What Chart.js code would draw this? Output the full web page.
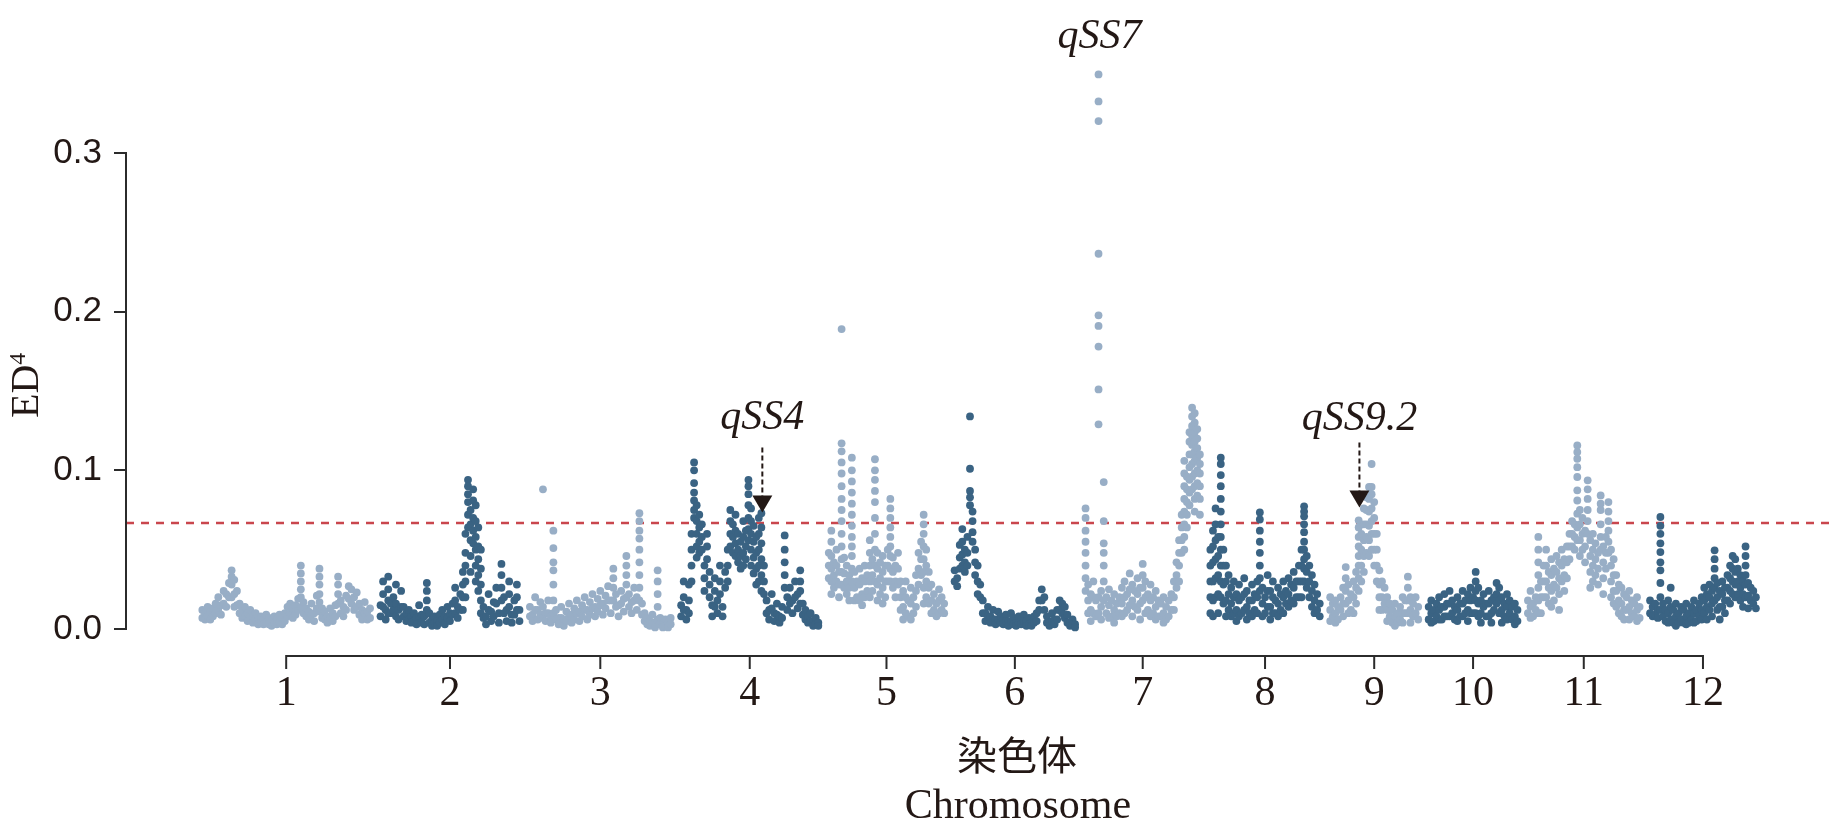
<!DOCTYPE html>
<html lang="zh">
<head>
<meta charset="utf-8">
<title>ED4 染色体</title>
<script src="https://cdn.jsdelivr.net/npm/chart.js@4.4.1/dist/chart.umd.min.js"></script>
<style>
  html, body { margin: 0; padding: 0; background: #fff; }
  #wrap { width: 1844px; height: 832px; position: relative; }
</style>
</head>
<body>
<div id="wrap"><canvas id="edChart"></canvas></div>
<script>
/* ED4 全基因组关联图 - 12条染色体 */

// 染色体名称和长度 (Mb)
const chrNames = ['1', '2', '3', '4', '5', '6', '7', '8', '9', '10', '11', '12'];
const chrLen = [43.27, 35.94, 36.41, 35.50, 29.96, 31.25, 29.70, 28.44, 23.01, 23.21, 29.02, 27.53];
const CHR_GAP = 2;

// 各染色体的ED4值, 从左到右; 数组表示同一位置的多个标记
const chr1 = [
  [0.012,0.007],[0.010,0.006],[0.014,0.008],[0.011,0.006],[0.013,0.008],
  [0.016,0.010],[0.020,0.012],[0.015,0.009],[0.024,0.016],
  [0.022,0.014],[0.029,0.020],[0.037,0.033,0.028,0.020],[0.031,0.022,0.014],[0.024,0.015],[0.016,0.010],
  [0.012,0.007],[0.014,0.008],[0.010,0.005],[0.012,0.007],[0.008,0.004],[0.010,0.006],[0.007,0.003],
  [0.008,0.004],[0.006,0.003],[0.009,0.004],[0.007,0.003],[0.005,0.002],[0.008,0.004],[0.006,0.003],[0.009,0.004],[0.007,0.003],[0.010,0.005],[0.014,0.008],
  [0.016,0.010],[0.013,0.007],[0.015,0.009],[0.019,0.012],[0.040,0.035,0.030,0.025,0.020,0.014],[0.017,0.010],[0.013,0.008],[0.011,0.006],[0.016,0.009],[0.010,0.005],[0.021,0.013],
  [0.038,0.033,0.028,0.022,0.017,0.011],[0.013,0.007],[0.011,0.006],[0.008,0.004],[0.013,0.007],[0.010,0.005],[0.015,0.008],[0.033,0.028,0.022,0.016],[0.018,0.010],
  [0.014,0.008],[0.021,0.012],[0.027,0.019],[0.025,0.016],[0.020,0.012],[0.023,0.014],[0.016,0.009],[0.012,0.006],[0.017,0.010],[0.011,0.006],[0.013,0.007]
];
const chr2 = [
  [0.015,0.008],[0.030,0.022,0.014],[0.012,0.006],[0.033,0.025,0.018,0.010],[0.016,0.010],[0.020,0.012],[0.028,0.016,0.008],[0.012,0.006],[0.024,0.014],[0.014,0.008],
  [0.010,0.005],[0.012,0.006],[0.008,0.004],[0.010,0.005],[0.007,0.003],[0.015,0.008],[0.009,0.004],[0.008,0.003],
  [0.029,0.024,0.018,0.012],[0.010,0.004],
  [0.006,0.002],[0.008,0.004],[0.005,0.002],[0.009,0.004],[0.012,0.006],[0.008,0.003],[0.014,0.007],[0.010,0.005],
  [0.016,0.009],[0.026,0.018,0.010],[0.014,0.007],[0.022,0.012],[0.036,0.028,0.020,0.012],
  [0.060,0.048,0.040,0.030,0.020],[0.094,0.090,0.085,0.080,0.072,0.064],[0.075,0.066,0.056,0.046,0.036],[0.088,0.081,0.070,0.062,0.054],[0.078,0.068,0.058,0.050,0.040,0.030],[0.064,0.052,0.044,0.034,0.024],[0.050,0.038,0.028,0.018,0.010],
  [0.014,0.007],[0.008,0.003],[0.022,0.012],[0.011,0.005],[0.017,0.008],[0.026,0.016],[0.010,0.004],
  [0.041,0.034,0.026,0.018],[0.020,0.010],[0.012,0.005],[0.030,0.022,0.014],[0.009,0.004],[0.018,0.009],[0.028,0.020,0.012],[0.012,0.005]
];
const chr3 = [
  [0.014,0.008],[0.009,0.005],[0.020,0.012],[0.012,0.006],[0.017,0.009],
  [0.088,0.014,0.007],
  [0.010,0.005],[0.018,0.010],[0.008,0.004],
  [0.062,0.051,0.042,0.037,0.028,0.018,0.010],
  [0.012,0.006],[0.007,0.003],[0.014,0.007],[0.006,0.002],[0.011,0.005],[0.016,0.008],[0.009,0.004],[0.013,0.006],[0.018,0.010],[0.011,0.005],[0.015,0.008],[0.020,0.012],[0.012,0.006],[0.017,0.009],[0.022,0.013],[0.014,0.008],[0.019,0.011],
  [0.024,0.015],[0.016,0.009],[0.021,0.013],[0.027,0.018],[0.018,0.010],
  [0.038,0.032,0.026,0.018],[0.022,0.014],
  [0.015,0.008],[0.024,0.016],[0.019,0.011],
  [0.046,0.040,0.034,0.028,0.020],
  [0.022,0.014],[0.017,0.010],[0.026,0.018],[0.020,0.012],
  [0.073,0.068,0.062,0.057,0.050,0.042,0.034,0.026,0.018],
  [0.016,0.009],[0.010,0.005],[0.007,0.003],
  [0.005,0.002],[0.009,0.004],[0.004,0.001],[0.037,0.030,0.022,0.014,0.006],[0.007,0.003],[0.003,0.001],[0.006,0.002],[0.004,0.001],[0.007,0.003]
];
const chr4 = [
  [0.015,0.008],[0.030,0.020,0.012],[0.012,0.006],[0.028,0.018,0.010],
  [0.060,0.050,0.040,0.030],
  [0.105,0.100,0.092,0.086,0.081,0.075,0.070],
  [0.078,0.068,0.060,0.052,0.045],
  [0.072,0.064,0.055,0.048],
  [0.066,0.058,0.050],
  [0.040,0.032,0.024],
  [0.060,0.052,0.044],
  [0.036,0.028,0.020],
  [0.015,0.008],
  [0.032,0.024,0.014],
  [0.018,0.010],
  [0.040,0.030,0.022],
  [0.014,0.008],
  [0.036,0.026],
  [0.050,0.040,0.030],
  [0.075,0.068,0.060,0.052],
  [0.066,0.058,0.048],
  [0.072,0.062,0.054,0.046],
  [0.060,0.050,0.042],
  [0.055,0.046,0.038],
  [0.068,0.058,0.048,0.040],
  [0.062,0.052,0.044],
  [0.094,0.090,0.085,0.078,0.070,0.063,0.056],
  [0.076,0.068,0.060,0.050,0.040],
  [0.065,0.055,0.045,0.035],
  [0.058,0.048,0.038,0.028],
  [0.070,0.060,0.050,0.040,0.030],
  [0.073,0.064,0.054,0.044,0.034,0.024],
  [0.040,0.030,0.022],
  [0.018,0.010],[0.012,0.006],[0.022,0.013],[0.010,0.005],[0.016,0.009],[0.008,0.004],[0.014,0.007],
  [0.059,0.050,0.042,0.034,0.026],
  [0.020,0.012],
  [0.026,0.016],[0.018,0.010],[0.030,0.020],[0.022,0.013],[0.037,0.030,0.024,0.016],[0.016,0.009],
  [0.012,0.006],[0.008,0.004],[0.010,0.005],[0.005,0.002],[0.007,0.003],[0.004,0.002]
];
const chr5 = [
  [0.048,0.040,0.032],
  [0.062,0.055,0.046,0.038,0.030,0.022],
  [0.042,0.034,0.026],
  [0.050,0.040,0.030],
  [0.036,0.028,0.020],
  [0.189,0.117,0.112,0.105,0.098,0.090,0.082,0.075,0.068,0.060,0.052,0.044,0.036,0.028],
  [0.045,0.035,0.026],
  [0.040,0.030,0.022],
  [0.034,0.026,0.018],
  [0.108,0.100,0.093,0.086,0.079,0.072,0.065,0.058,0.052,0.046,0.038,0.030],
  [0.036,0.026,0.018],
  [0.030,0.020],
  [0.038,0.028,0.018],
  [0.032,0.022,0.015],
  [0.040,0.030,0.020],
  [0.034,0.024],
  [0.056,0.048,0.040,0.030,0.020],
  [0.044,0.034,0.024],
  [0.107,0.100,0.094,0.087,0.080,0.070,0.060,0.050,0.040,0.030],
  [0.048,0.038,0.028,0.018],
  [0.042,0.032,0.022],
  [0.046,0.036,0.026,0.016],
  [0.040,0.030,0.020],
  [0.050,0.040,0.030],
  [0.082,0.076,0.070,0.064,0.058,0.052,0.046,0.038,0.030],
  [0.045,0.036,0.026],
  [0.040,0.030,0.020],
  [0.048,0.038,0.028],
  [0.030,0.020,0.012],
  [0.024,0.014,0.006],
  [0.030,0.020,0.010],
  [0.018,0.008],
  [0.026,0.016,0.006],
  [0.020,0.010],
  [0.034,0.024,0.014],
  [0.048,0.038,0.028],
  [0.055,0.044,0.034],
  [0.072,0.066,0.060,0.052,0.044,0.036,0.026,0.016],
  [0.050,0.040,0.030,0.020],
  [0.036,0.026,0.016],
  [0.028,0.018,0.010],
  [0.022,0.012],
  [0.016,0.008],
  [0.025,0.018,0.010],
  [0.020,0.012],
  [0.016,0.010]
];
const chr6 = [
  [0.037,0.030],[0.032,0.027],
  [0.053,0.045,0.038],[0.063,0.055,0.047,0.040],[0.050,0.042,0.036],[0.058,0.048,0.040],
  [0.134,0.101,0.087,0.083,0.078],
  [0.074,0.068,0.061,0.055],
  [0.050,0.042,0.034],[0.040,0.030,0.022],[0.028,0.020],
  [0.018,0.010],[0.010,0.005],[0.014,0.008],[0.008,0.004],[0.012,0.006],[0.006,0.003],[0.011,0.006],[0.008,0.004],
  [0.006,0.003],[0.009,0.005],[0.005,0.002],[0.010,0.005],[0.007,0.003],[0.004,0.002],[0.008,0.004],[0.006,0.003],[0.009,0.005],[0.005,0.002],[0.007,0.003],[0.004,0.002],[0.008,0.004],
  [0.010,0.005],
  [0.018,0.012],[0.025,0.018],[0.020,0.012],
  [0.008,0.004],[0.004,0.002],[0.010,0.005],[0.006,0.003],
  [0.012,0.006],[0.018,0.012],[0.016,0.010],[0.014,0.007],[0.009,0.004],
  [0.004,0.002],[0.006,0.003],[0.003,0.001]
];
const chr7 = [
  [0.076,0.070,0.062,0.055,0.048,0.040,0.032,0.024],
  [0.028,0.018,0.010],
  [0.022,0.012,0.005],
  [0.030,0.020,0.010],
  [0.018,0.008],
  [0.3495,0.3325,0.3201,0.2365,0.1977,0.191,0.178,0.151,0.129,0.020,0.010],
  [0.024,0.014,0.006],
  [0.0926,0.068,0.054,0.048,0.040,0.030,0.018],
  [0.020,0.010],
  [0.025,0.015,0.007],
  [0.018,0.008],
  [0.022,0.012,0.004],
  [0.016,0.008],
  [0.020,0.010],
  [0.026,0.016,0.008],
  [0.030,0.020,0.010],
  [0.022,0.012],
  [0.035,0.025,0.015],
  [0.028,0.018,0.008],
  [0.024,0.014],
  [0.032,0.022,0.012],
  [0.026,0.016,0.006],
  [0.041,0.034,0.026,0.018],
  [0.030,0.020,0.010],
  [0.022,0.012],
  [0.028,0.018,0.008],
  [0.020,0.010],
  [0.024,0.014,0.006],
  [0.018,0.008],
  [0.016,0.008],
  [0.020,0.010,0.004],
  [0.014,0.006],
  [0.018,0.008],
  [0.022,0.012],
  [0.030,0.020,0.012],
  [0.042,0.034,0.026],
  [0.056,0.048,0.040,0.030],
  [0.072,0.064,0.056,0.048],
  [0.106,0.098,0.090,0.082,0.074,0.066,0.058,0.050],
  [0.096,0.088,0.080,0.072,0.064],
  [0.124,0.118,0.110,0.102,0.094,0.086,0.078],
  [0.1395,0.134,0.128,0.122,0.116,0.110,0.104,0.096,0.088],
  [0.136,0.130,0.124,0.118,0.112,0.106,0.098,0.090,0.082,0.074],
  [0.126,0.120,0.114,0.108,0.100,0.092,0.084],
  [0.110,0.104,0.098,0.090,0.082,0.072]
];
const chr8 = [
  [0.050,0.040,0.030,0.020,0.010],
  [0.062,0.052,0.042,0.030,0.018,0.008],
  [0.076,0.066,0.056,0.044,0.032,0.020],
  [0.058,0.046,0.034,0.022,0.010],
  [0.108,0.104,0.097,0.090,0.082,0.074,0.066,0.058,0.050,0.040,0.030,0.020],
  [0.050,0.040,0.028,0.016],
  [0.040,0.030,0.018,0.008],
  [0.034,0.022,0.012],
  [0.026,0.016,0.008],
  [0.030,0.020,0.010],
  [0.022,0.012,0.005],
  [0.028,0.018,0.008],
  [0.020,0.010],
  [0.032,0.022,0.012],
  [0.024,0.014,0.006],
  [0.018,0.010],
  [0.028,0.018,0.008],
  [0.022,0.012],
  [0.030,0.020,0.010],
  [0.0735,0.069,0.062,0.055,0.048,0.040,0.032,0.024],
  [0.026,0.016,0.008],
  [0.020,0.010],
  [0.034,0.024,0.014],
  [0.024,0.014,0.006],
  [0.030,0.020,0.010],
  [0.018,0.010],
  [0.026,0.016,0.008],
  [0.022,0.012],
  [0.030,0.020,0.010],
  [0.024,0.016],
  [0.032,0.022,0.014],
  [0.028,0.018],
  [0.036,0.026,0.016],
  [0.030,0.020],
  [0.040,0.030,0.020],
  [0.050,0.040,0.030,0.020],
  [0.0773,0.074,0.071,0.066,0.061,0.055,0.050,0.044,0.038,0.030],
  [0.046,0.036,0.026],
  [0.040,0.030,0.020],
  [0.034,0.024,0.014],
  [0.028,0.018,0.010],
  [0.022,0.012],
  [0.016,0.008]
];
const chr9 = [
  [0.020,0.012,0.005],[0.016,0.008],[0.018,0.010,0.004],[0.014,0.006],[0.020,0.012],[0.026,0.016,0.008],
  [0.039,0.032,0.024,0.016],
  [0.028,0.018,0.010],[0.022,0.012],[0.030,0.020,0.010],[0.036,0.026,0.016],
  [0.0685,0.064,0.058,0.052,0.046,0.040,0.032,0.024],
  [0.060,0.050,0.040,0.030],
  [0.076,0.066,0.056,0.046,0.036],
  [0.083,0.075,0.066,0.058,0.048],
  [0.0895,0.082,0.074,0.065,0.056,0.046],
  [0.104,0.0895,0.085,0.076,0.068,0.060,0.050],
  [0.080,0.070,0.060,0.050,0.040],
  [0.060,0.050,0.040,0.030],
  [0.037,0.028,0.020,0.012],
  [0.030,0.020,0.012],
  [0.026,0.016],
  [0.020,0.012,0.005],
  [0.016,0.008],
  [0.012,0.004],
  [0.016,0.008,0.002],
  [0.010,0.004],
  [0.014,0.006],
  [0.020,0.010,0.004],
  [0.018,0.010],
  [0.033,0.026,0.018,0.010],
  [0.020,0.012,0.004],
  [0.016,0.008],
  [0.020,0.010],
  [0.014,0.006]
];
const chr10 = [
  [0.014,0.006],[0.018,0.010,0.004],[0.012,0.005],[0.016,0.008],[0.020,0.012,0.006],
  [0.014,0.006],[0.022,0.014,0.008],[0.016,0.008],[0.024,0.016,0.008],[0.018,0.010],
  [0.014,0.006],[0.020,0.012,0.005],[0.016,0.008],[0.024,0.016,0.008],[0.018,0.010],
  [0.022,0.012,0.005],[0.026,0.018,0.010],[0.020,0.010],
  [0.036,0.030,0.024,0.018,0.010],
  [0.026,0.016,0.008],[0.018,0.010,0.004],[0.022,0.014],[0.016,0.008],[0.024,0.016,0.008],
  [0.018,0.010,0.004],[0.020,0.012],[0.029,0.022,0.016],[0.026,0.018,0.010],[0.020,0.012,0.004],
  [0.016,0.008],[0.022,0.014,0.006],[0.018,0.010],[0.014,0.006],[0.016,0.008,0.003],[0.012,0.005]
];
const chr11 = [
  [0.018,0.010],[0.024,0.014,0.007],[0.016,0.008],[0.020,0.012],
  [0.058,0.050,0.042,0.034,0.026,0.018,0.010],
  [0.030,0.020,0.010],[0.040,0.030,0.020],[0.050,0.040,0.030,0.020],[0.036,0.026,0.016],
  [0.044,0.034,0.024,0.014],[0.038,0.028,0.018],[0.046,0.036,0.026],[0.042,0.032,0.022,0.012],
  [0.050,0.040,0.030],[0.044,0.034,0.024],[0.052,0.042,0.032],[0.060,0.052,0.044],
  [0.068,0.060,0.052],[0.066,0.058,0.050],
  [0.1157,0.1115,0.1073,0.102,0.0958,0.0874,0.081,0.0727,0.064,0.056],
  [0.075,0.066,0.056,0.046],
  [0.070,0.060,0.050],
  [0.062,0.052,0.042],
  [0.0937,0.088,0.082,0.075,0.068,0.060],
  [0.056,0.046,0.036,0.026],
  [0.060,0.050,0.040,0.030],
  [0.054,0.044,0.034],
  [0.048,0.038,0.028],
  [0.0842,0.079,0.075,0.066,0.058,0.050],
  [0.052,0.042,0.032,0.022],
  [0.058,0.048,0.038],
  [0.0800,0.074,0.068,0.062,0.055,0.048],
  [0.050,0.040,0.030,0.020],
  [0.044,0.034,0.024,0.016],
  [0.034,0.024,0.014],
  [0.028,0.018,0.010],
  [0.026,0.016,0.008],
  [0.022,0.012,0.006],
  [0.020,0.012],
  [0.024,0.014,0.006],
  [0.018,0.010],
  [0.016,0.008],
  [0.020,0.012,0.005],
  [0.014,0.007]
];
const chr12 = [
  [0.018,0.010],[0.014,0.008],[0.016,0.009],[0.012,0.007],
  [0.0706,0.065,0.060,0.054,0.0485,0.042,0.037,0.029,0.020,0.012],
  [0.016,0.008],[0.012,0.005],[0.018,0.010,0.004],[0.026,0.014,0.006],[0.012,0.004],
  [0.016,0.008,0.002],[0.010,0.004],[0.014,0.006],[0.012,0.004],[0.016,0.008,0.003],
  [0.010,0.004],[0.014,0.006],[0.018,0.010,0.004],[0.012,0.005],[0.016,0.008],
  [0.020,0.012,0.006],[0.026,0.018,0.010],[0.022,0.014,0.006],[0.028,0.020,0.012],[0.024,0.016,0.008],
  [0.0496,0.044,0.038,0.032,0.026,0.018],
  [0.029,0.020,0.012],[0.024,0.014,0.006],[0.030,0.022,0.014],[0.026,0.018,0.010],
  [0.034,0.026,0.018],[0.040,0.032,0.024,0.016],[0.046,0.038,0.030,0.022],[0.044,0.036,0.028,0.020],
  [0.038,0.030,0.022],[0.034,0.026,0.018],[0.030,0.022,0.014],
  [0.052,0.046,0.040,0.034,0.028,0.020],
  [0.029,0.021,0.013],[0.026,0.018],[0.024,0.016],[0.020,0.013]
];
const chrValues = [chr1, chr2, chr3, chr4, chr5, chr6, chr7, chr8, chr9, chr10, chr11, chr12];

// 显著性阈值
const threshold = 0.0668;

// QTL 标注: 名称, 所在染色体, 染色体内位置(Mb), 箭头尖端值, 标签基线值
const qtlNames = ['qSS4', 'qSS7', 'qSS9.2'];
const qtlChr = [4, 7, 9];
const qtlPos = [20.95, 3.9, 7.75];
const qtlTip = [0.0735, null, 0.0765];
const qtlLabel = [0.1260, 0.3662, 0.1254];

// 坐标轴范围 (纵轴线只画到 0.3, 上方留给 qSS7 的高点)
const X_MIN = -19.05;
const X_MAX = 414.5;
const Y_MAX = 0.37;
const Y_TICKS = [0, 0.1, 0.2, 0.3];

const LIGHT = '#98aec6';
const DARK = '#3a6383';
const INK = '#231815';
const AXIS = '#2b2b2b';

// 每条染色体的起点 (含间隔)
const chrStart = [];
let acc = 0;
chrLen.forEach((len, i) => { chrStart.push(acc); acc += len + CHR_GAP; });
const tickPos = chrLen.map((len, i) => chrStart[i] + len / 2);

function buildPoints(ci) {
    const entries = chrValues[ci];
    const step = chrLen[ci] / entries.length;
    const pts = [];
    entries.forEach((e, i) => {
        const x = chrStart[ci] + (i + 0.5) * step;
        (Array.isArray(e) ? e : [e]).forEach(v => pts.push({ x: x, y: v }));
    });
    return pts;
}

const datasets = chrValues.map((_, ci) => ({
    type: 'scatter',
    data: buildPoints(ci),
    backgroundColor: ci % 2 === 0 ? LIGHT : DARK,
    borderWidth: 0,
    pointRadius: 3.9,
    pointHoverRadius: 3.9,
    clip: false
}));

datasets.push({
    type: 'line',
    data: [{ x: X_MIN, y: threshold }, { x: X_MAX, y: threshold }],
    borderColor: '#c9464d',
    borderWidth: 2.6,
    borderDash: [8, 7],
    pointRadius: 0,
    fill: false
});

// 自定义绘制: 纵轴线、横轴线、标题、QTL 标注
const overlayPlugin = {
    id: 'overlay',
    afterDatasetsDraw(chart) {
        const { ctx, chartArea } = chart;
        const xs = chart.scales.x, ys = chart.scales.y;
        ctx.save();

        // 纵轴线 0 ~ 0.3
        ctx.strokeStyle = AXIS;
        ctx.lineWidth = 2;
        ctx.beginPath();
        ctx.moveTo(chartArea.left, ys.getPixelForValue(Y_TICKS[Y_TICKS.length - 1]) - 1);
        ctx.lineTo(chartArea.left, ys.getPixelForValue(0) + 1);
        ctx.stroke();

        // 横轴线和刻度
        const axisY = chartArea.bottom + 27;
        ctx.beginPath();
        ctx.moveTo(xs.getPixelForValue(tickPos[0]) - 1, axisY);
        ctx.lineTo(xs.getPixelForValue(tickPos[tickPos.length - 1]) + 1, axisY);
        tickPos.forEach(v => {
            const px = xs.getPixelForValue(v);
            ctx.moveTo(px, axisY);
            ctx.lineTo(px, axisY + 13);
        });
        ctx.stroke();

        // 横轴标题
        ctx.fillStyle = INK;
        ctx.textAlign = 'center';
        ctx.textBaseline = 'middle';
        ctx.font = '40px "Noto Sans CJK SC"';
        ctx.fillText('染色体', 1017, chartArea.bottom + 126);
        ctx.textBaseline = 'alphabetic';
        ctx.font = '42px "Liberation Serif"';
        ctx.fillText('Chromosome', 1018, chartArea.bottom + 189);

        // 纵轴标题 ED4
        const yMid = (ys.getPixelForValue(0) + ys.getPixelForValue(0.3)) / 2;
        ctx.save();
        ctx.translate(38, yMid - 5);
        ctx.rotate(-Math.PI / 2);
        ctx.textAlign = 'left';
        ctx.font = '40px "Liberation Serif"';
        const w = ctx.measureText('ED').width;
        ctx.fillText('ED', -32, 0);
        ctx.font = '24px "Liberation Serif"';
        ctx.fillText('4', -32 + w, -13);
        ctx.restore();

        // QTL 标注
        qtlNames.forEach((name, k) => {
            const ci = qtlChr[k] - 1;
            const px = xs.getPixelForValue(chrStart[ci] + qtlPos[k]);
            if (qtlTip[k] !== null) {
                const tipY = ys.getPixelForValue(qtlTip[k]);
                ctx.strokeStyle = INK;
                ctx.lineWidth = 2;
                ctx.setLineDash([5, 3]);
                ctx.beginPath();
                ctx.moveTo(px, tipY - 65);
                ctx.lineTo(px, tipY - 16);
                ctx.stroke();
                ctx.setLineDash([]);
                ctx.beginPath();
                ctx.moveTo(px - 10, tipY - 17);
                ctx.lineTo(px + 10, tipY - 17);
                ctx.lineTo(px, tipY);
                ctx.closePath();
                ctx.fillStyle = INK;
                ctx.fill();
            }
            ctx.fillStyle = INK;
            ctx.textAlign = 'center';
            ctx.textBaseline = 'alphabetic';
            ctx.font = 'italic 42px "Liberation Serif"';
            ctx.fillText(name, px, ys.getPixelForValue(qtlLabel[k]));
        });

        ctx.restore();
    }
};

function initEdChart() {
    const canvas = document.getElementById('edChart');
    new Chart(canvas, {
        data: { datasets: datasets },
        options: {
            responsive: true,
            maintainAspectRatio: false,
            animation: false,
            events: [],
            // 0.3 落在 y=153, 0 落在 y=629
            layout: { padding: { top: 41.93, right: 11, bottom: 0, left: 0 } },
            plugins: {
                legend: { display: false },
                tooltip: { enabled: false }
            },
            scales: {
                x: {
                    type: 'linear',
                    min: X_MIN,
                    max: X_MAX,
                    grid: { display: false, drawTicks: false },
                    border: { display: false },
                    afterBuildTicks: s => { s.ticks = tickPos.map(v => ({ value: v })); },
                    afterFit: s => { s.height = 203; },
                    ticks: {
                        autoSkip: false,
                        maxRotation: 0,
                        minRotation: 0,
                        padding: 40,
                        color: INK,
                        font: { family: 'Liberation Serif', size: 42 },
                        callback: (v, i) => chrNames[i]
                    }
                },
                y: {
                    min: 0,
                    max: Y_MAX,
                    afterBuildTicks: s => { s.ticks = Y_TICKS.map(v => ({ value: v })); },
                    afterFit: s => { s.width = 126; },
                    grid: { drawOnChartArea: false, drawTicks: true, tickLength: 12, color: AXIS, lineWidth: 2 },
                    border: { display: false },
                    ticks: {
                        padding: 12,
                        color: INK,
                        font: { family: 'Liberation Sans', size: 35 },
                        callback: v => v.toFixed(1)
                    }
                }
            }
        },
        plugins: [overlayPlugin]
    });
}

document.addEventListener('DOMContentLoaded', initEdChart);
</script>
</body>
</html>
